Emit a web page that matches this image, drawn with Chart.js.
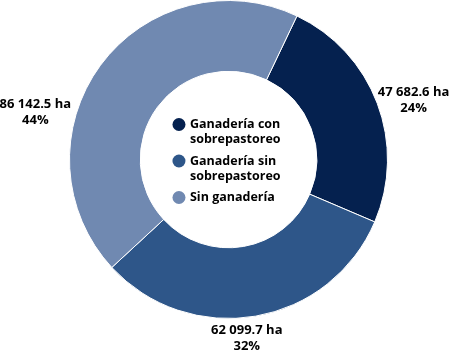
<!DOCTYPE html>
<html>
<head>
<meta charset="utf-8">
<script src="https://cdn.jsdelivr.net/npm/chart.js@4/dist/chart.umd.min.js"></script>
<style>
  html, body { margin: 0; padding: 0; background: #ffffff; }
  #wrap { width: 450px; height: 351px; position: relative; }
</style>
</head>
<body>
<div id="wrap"><canvas id="c" width="450" height="351"></canvas></div>
<script>
// ---- data ----
const categories = [
  ['Ganadería con', 'sobrepastoreo'],
  ['Ganadería sin', 'sobrepastoreo'],
  ['Sin ganadería']
];
const areaHa = [47682.6, 62099.7, 86142.5];
const colors = ['#05214f', '#2e5689', '#7089b1'];

// label placement relative to the donut (in units of outer radius)
const labelOffsets = [
  { dx: 1.164, dy: -0.372 },
  { dx: 0.115, dy: 1.125 },
  { dx: -1.215, dy: -0.300 }
];

const FONT = '"Open Sans", sans-serif';

function fmtHa(v) {
  const parts = v.toFixed(1).split('.');
  const intPart = parts[0].replace(/\B(?=(\d{3})+(?!\d))/g, ' ');
  return intPart + '.' + parts[1] + ' ha';
}

const sliceLabels = {
  id: 'sliceLabels',
  afterDatasetsDraw(chart) {
    const ctx = chart.ctx;
    const meta = chart.getDatasetMeta(0);
    const data = chart.data.datasets[0].data;
    const total = data.reduce((a, b) => a + b, 0);
    ctx.save();
    ctx.fillStyle = '#000000';
    ctx.font = 'bold 13px ' + FONT;
    ctx.textAlign = 'center';
    ctx.textBaseline = 'middle';
    meta.data.forEach((arc, i) => {
      const r = arc.outerRadius;
      const cx = arc.x + labelOffsets[i].dx * r;
      const cy = arc.y + labelOffsets[i].dy * r;
      const pct = Math.round(data[i] / total * 100) + '%';
      ctx.fillText(fmtHa(data[i]), cx, cy - 8);
      ctx.fillText(pct, cx, cy + 8);
    });
    ctx.restore();
  }
};

const centerLegend = {
  id: 'centerLegend',
  afterDatasetsDraw(chart) {
    const ctx = chart.ctx;
    const meta = chart.getDatasetMeta(0);
    const arc = meta.data[0];
    const labels = chart.data.labels;
    const cols = chart.data.datasets[0].backgroundColor;
    const lineH = 15;
    const gap = 6.5;
    let totalH = 0;
    labels.forEach((l, i) => { totalH += l.length * lineH + (i ? gap : 0); });
    ctx.save();
    ctx.font = 'bold 12.5px ' + FONT;
    let maxW = 0;
    labels.forEach(l => l.forEach(s => { maxW = Math.max(maxW, ctx.measureText(s).width); }));
    const markerR = 6.5;
    const textGap = 4.5;
    const blockW = markerR * 2 + textGap + maxW;
    const left = arc.x - blockW / 2 - 2;
    let y = arc.y - totalH / 2 + 1.5;
    ctx.textAlign = 'left';
    ctx.textBaseline = 'middle';
    labels.forEach((l, i) => {
      if (i) y += gap;
      ctx.fillStyle = cols[i];
      ctx.beginPath();
      ctx.arc(left + markerR, y + lineH / 2, markerR, 0, Math.PI * 2);
      ctx.fill();
      ctx.fillStyle = '#000000';
      l.forEach((s, k) => {
        ctx.fillText(s, left + markerR * 2 + textGap, y + lineH / 2 + k * lineH);
      });
      y += l.length * lineH;
    });
    ctx.restore();
  }
};

new Chart(document.getElementById('c'), {
  type: 'doughnut',
  data: {
    labels: categories,
    datasets: [{
      data: areaHa,
      backgroundColor: colors,
      borderColor: '#ffffff',
      borderWidth: 1,
      hoverOffset: 0
    }]
  },
  options: {
    responsive: false,
    animation: false,
    events: [],
    rotation: 25.5,
    cutout: '55.5%',
    layout: { padding: { top: 0, bottom: 32, left: 69, right: 62 } },
    plugins: {
      legend: { display: false },
      tooltip: { enabled: false }
    }
  },
  plugins: [sliceLabels, centerLegend]
});
</script>
</body>
</html>
